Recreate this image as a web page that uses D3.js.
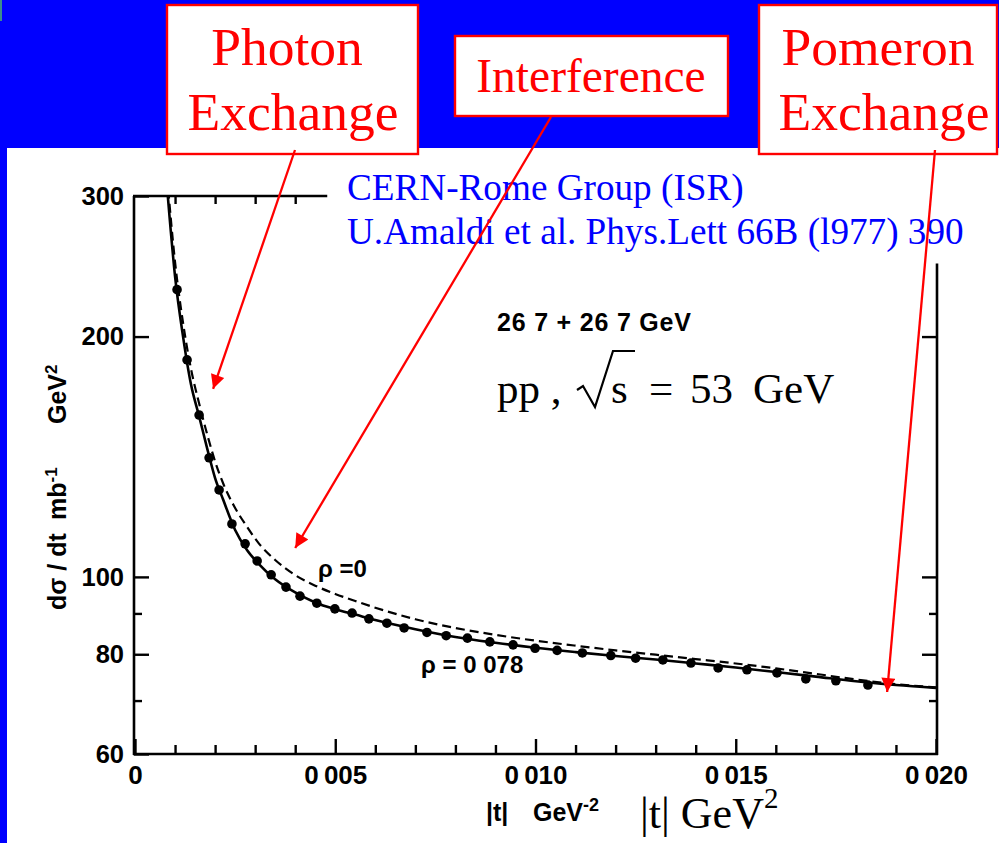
<!DOCTYPE html>
<html>
<head>
<meta charset="utf-8">
<script src="https://cdn.jsdelivr.net/npm/d3@7"></script>
<style>
  html, body { margin: 0; padding: 0; background: #0000ff; overflow: hidden; }
  svg { display: block; }
</style>
</head>
<body>
<svg id="chart" width="999" height="843"></svg>
<script>
// ---- data: pp elastic scattering at sqrt(s) = 53 GeV (26.7 + 26.7 GeV) ----
// measured points: |t| (GeV^2) and dsigma/dt (mb GeV^-2)
const tPoints = [0.00105, 0.00130, 0.00160, 0.00185, 0.00210, 0.00242, 0.00275, 0.00305,
  0.00340, 0.00377, 0.00412, 0.00454, 0.00499, 0.00542, 0.00584, 0.00629, 0.00672,
  0.00729, 0.00777, 0.00830, 0.00886, 0.00944, 0.00999, 0.01054, 0.01117, 0.01188,
  0.01250, 0.01318, 0.01388, 0.01456, 0.01528, 0.01603, 0.01675, 0.01750, 0.01830];
const sigmaPoints = [229, 187, 159.5, 141, 128.5, 116.5, 110, 104.7,
  100.6, 97.1, 94.6, 92.7, 91.2, 90.1, 88.6, 87.5, 86.3,
  85.2, 84.4, 83.8, 82.9, 82.2, 81.4, 80.9, 80.3, 79.7,
  79.1, 78.7, 78.0, 76.9, 76.5, 75.8, 74.5, 74.1, 73.2];

// fitted curves sampled on a common |t| grid
const tCurve = [0.0008, 0.0010, 0.0012, 0.0014, 0.0016, 0.0018, 0.0020, 0.0022, 0.0025,
  0.0028, 0.0031, 0.0035, 0.0040, 0.0045, 0.0050, 0.0055, 0.0060, 0.0070, 0.0080,
  0.0090, 0.0100, 0.0110, 0.0120, 0.0130, 0.0140, 0.0150, 0.0160, 0.0170, 0.0180,
  0.0190, 0.0200];
// rho = 0.078 (solid)
const sigmaRhoFit = [308, 238, 200, 174, 159, 145, 133, 125, 114.5,
  108, 103.7, 99.3, 95.6, 92.9, 91.1, 89.7, 88.3, 86.0, 84.1,
  82.7, 81.5, 80.5, 79.6, 78.8, 77.9, 77.0, 76.0, 75.0, 74.0,
  73.2, 72.6];
// rho = 0 (dashed)
const sigmaRhoZero = [318, 248, 208, 182, 165, 151, 139.5, 131, 122,
  115.5, 110, 105, 100.5, 97.5, 95.2, 93.3, 91.5, 88.5, 86.3,
  84.6, 83.2, 82.0, 80.9, 79.9, 78.9, 77.9, 76.8, 75.6, 74.4,
  73.4, 72.7];

// axes
const xMajorTicks = [0, 0.005, 0.010, 0.015, 0.020];
const xTickLabels = ["0", "0\u2009005", "0\u2009010", "0\u2009015", "0\u2009020"];
const xMinorTicks = [0.001, 0.002, 0.003, 0.004, 0.006, 0.007, 0.008, 0.009,
  0.011, 0.012, 0.013, 0.014, 0.016, 0.017, 0.018, 0.019];
const xTopTicks = [0.001, 0.002, 0.003, 0.004];
const yMajorTicks = [300, 200, 100, 80, 60];
const yMinorTicks = [90, 70];
const yRightMajor = [200, 100, 80];
const yRightMinor = [90, 70];

// ---- drawing ----
const W = 999, H = 843;
const RED = "#ff0000", BLUE = "#0000ff";
const sans = "'Liberation Sans', Arial, sans-serif";
const serif = "'Liberation Serif', 'Times New Roman', serif";
const svg = d3.select("#chart");

svg.append("rect").attr("width", W).attr("height", H).attr("fill", BLUE);
svg.append("rect").attr("x", 0).attr("y", 0).attr("width", 2).attr("height", 21).attr("fill", "#3c8c8c");
svg.append("rect").attr("x", 7).attr("y", 148).attr("width", W - 7).attr("height", H - 148).attr("fill", "#fff");

const x = d3.scaleLinear().domain([0, 0.020]).range([135, 936]);
const y = d3.scaleLog().domain([60, 300]).range([754, 196]);

const plot = svg.append("g");

// frame (top and right edges stop short where the citation text sits)
const frame = plot.append("g").attr("stroke", "#000").attr("stroke-width", 2.6).attr("fill", "none");
frame.append("line").attr("x1", x(0) - 1).attr("x2", x(0) - 1).attr("y1", y(300)).attr("y2", y(60) + 1);
frame.append("line").attr("x1", x(0) - 2).attr("x2", x(0.020) + 2).attr("y1", y(60)).attr("y2", y(60));
frame.append("line").attr("x1", x(0) - 2).attr("x2", x(0.0048)).attr("y1", y(300)).attr("y2", y(300));
frame.append("line").attr("x1", x(0.020) + 1).attr("x2", x(0.020) + 1).attr("y1", y(247)).attr("y2", y(60) + 1);

function styleAxis(g, size) {
  g.select(".domain").remove();
  g.selectAll(".tick line").attr("stroke", "#000").attr("stroke-width", 2.4);
  g.selectAll(".tick text")
    .attr("fill", "#000")
    .attr("font-family", sans)
    .attr("font-weight", "bold")
    .attr("font-size", size);
}

// left axis
plot.append("g").attr("transform", `translate(${x(0) - 1},0)`)
  .call(d3.axisLeft(y).tickValues(yMajorTicks).tickSize(-15).tickPadding(10).tickFormat(d3.format("d")))
  .call(g => styleAxis(g, 25.5));
plot.append("g").attr("transform", `translate(${x(0) - 1},0)`)
  .call(d3.axisLeft(y).tickValues(yMinorTicks).tickSize(-8).tickFormat(""))
  .call(g => styleAxis(g, 25));

// right axis
plot.append("g").attr("transform", `translate(${x(0.020) + 1},0)`)
  .call(d3.axisRight(y).tickValues(yRightMajor).tickSize(-15).tickFormat(""))
  .call(g => styleAxis(g, 25));
plot.append("g").attr("transform", `translate(${x(0.020) + 1},0)`)
  .call(d3.axisRight(y).tickValues(yRightMinor).tickSize(-8).tickFormat(""))
  .call(g => styleAxis(g, 25));

// bottom axis
plot.append("g").attr("transform", `translate(0,${y(60)})`)
  .call(d3.axisBottom(x).tickValues(xMajorTicks).tickSize(-15).tickPadding(12)
    .tickFormat((d, i) => xTickLabels[i]))
  .call(g => styleAxis(g, 26));
plot.append("g").attr("transform", `translate(0,${y(60)})`)
  .call(d3.axisBottom(x).tickValues(xMinorTicks).tickSize(-9).tickFormat(""))
  .call(g => styleAxis(g, 26));

// top axis
plot.append("g").attr("transform", `translate(0,${y(300)})`)
  .call(d3.axisTop(x).tickValues(xTopTicks).tickSize(-8).tickFormat(""))
  .call(g => styleAxis(g, 26));

// curves, clipped to the plotting area
svg.append("clipPath").attr("id", "plotClip")
  .append("rect").attr("x", x(0)).attr("y", y(300)).attr("width", x(0.020) - x(0)).attr("height", y(60) - y(300));

const line = d3.line().x(d => x(d[0])).y(d => y(d[1])).curve(d3.curveMonotoneX);
const curves = plot.append("g").attr("clip-path", "url(#plotClip)");

curves.append("path")
  .datum(tCurve.map((t, i) => [t, sigmaRhoZero[i]]))
  .attr("d", line).attr("fill", "none").attr("stroke", "#000")
  .attr("stroke-width", 2.2).attr("stroke-dasharray", "9,5");

curves.append("path")
  .datum(tCurve.map((t, i) => [t, sigmaRhoFit[i]]))
  .attr("d", line).attr("fill", "none").attr("stroke", "#000")
  .attr("stroke-width", 2.6);

curves.selectAll("circle.pt")
  .data(tPoints.map((t, i) => [t, sigmaPoints[i]]))
  .join("circle").attr("class", "pt")
  .attr("cx", d => x(d[0])).attr("cy", d => y(d[1])).attr("r", 4.8).attr("fill", "#000");

// curve labels
plot.append("text").attr("x", 318).attr("y", 577)
  .attr("font-family", sans).attr("font-size", 24).attr("font-weight", "bold").attr("fill", "#000")
  .text("\u03C1 =0");
plot.append("text").attr("x", 421).attr("y", 673)
  .attr("font-family", sans).attr("font-size", 24).attr("font-weight", "bold").attr("fill", "#000")
  .text("\u03C1 = 0 078");

// axis titles from the original figure
const yTitle = plot.append("g").attr("transform", "translate(66,0) rotate(-90)")
  .attr("font-family", sans).attr("font-size", 25).attr("font-weight", "bold").attr("fill", "#000");
yTitle.append("text").attr("x", -610).attr("y", 0).text("d\u03C3 / dt");
const yMb = yTitle.append("text").attr("x", -520).attr("y", 0);
yMb.append("tspan").text("mb");
yMb.append("tspan").attr("dy", -9).attr("font-size", 17).text("-1");
const yGev = yTitle.append("text").attr("x", -424).attr("y", 0);
yGev.append("tspan").text("GeV");
yGev.append("tspan").attr("dy", -9).attr("font-size", 17).text("2");

const xTitle = plot.append("g")
  .attr("font-family", sans).attr("font-size", 25).attr("font-weight", "bold").attr("fill", "#000");
xTitle.append("text").attr("x", 486).attr("y", 821).text("|t|");
const xGev = xTitle.append("text").attr("x", 533).attr("y", 821);
xGev.append("tspan").text("GeV");
xGev.append("tspan").attr("dy", -10).attr("font-size", 18).text("-2");

plot.append("text").attr("x", 497).attr("y", 331)
  .attr("font-family", sans).attr("font-size", 25).attr("font-weight", "bold").attr("fill", "#000")
  .attr("letter-spacing", 0.8)
  .text("26 7 + 26 7  GeV");

// slide annotations
const bigX = svg.append("text").attr("x", 640).attr("y", 828)
  .attr("font-family", serif).attr("font-size", 44).attr("fill", "#000");
bigX.append("tspan").text("|t| GeV");
bigX.append("tspan").attr("dy", -20).attr("font-size", 29).text("2");

const pp = svg.append("g").attr("font-family", serif).attr("font-size", 43).attr("fill", "#000");
pp.append("text").attr("x", 497).attr("y", 403).text("pp ,");
pp.append("path").attr("d", "M577,390 L583,386 L595,407 L613,351 L635,351")
  .attr("fill", "none").attr("stroke", "#000").attr("stroke-width", 2.2);
pp.append("text").attr("x", 611).attr("y", 403).text("s");
pp.append("text").attr("x", 649).attr("y", 403).text("=");
pp.append("text").attr("x", 690).attr("y", 403).text("53");
pp.append("text").attr("x", 753).attr("y", 403).text("GeV");

svg.append("text").attr("x", 347).attr("y", 200)
  .attr("font-family", serif).attr("font-size", 37.2).attr("fill", BLUE)
  .text("CERN-Rome Group (ISR)");
svg.append("text").attr("x", 347).attr("y", 244)
  .attr("font-family", serif).attr("font-size", 37.2).attr("fill", BLUE)
  .text("U.Amaldi et al. Phys.Lett 66B (l977) 390");

// labelled boxes
function box(x0, y0, x1, y1, lines, size, baselines, cx) {
  const g = svg.append("g");
  g.append("rect").attr("x", x0).attr("y", y0).attr("width", x1 - x0).attr("height", y1 - y0)
    .attr("fill", "#fff").attr("stroke", RED).attr("stroke-width", 2.4);
  lines.forEach((s, i) => {
    g.append("text").attr("x", cx[i]).attr("y", baselines[i])
      .attr("text-anchor", "middle").attr("font-family", serif).attr("font-size", size)
      .attr("fill", RED).text(s);
  });
}
box(167, 5, 418, 154, ["Photon", "Exchange"], 53.5, [65, 130], [287, 293]);
box(455, 36, 728, 116, ["Interference"], 47.5, [92], [591]);
box(759, 5, 997, 154, ["Pomeron", "Exchange"], 53.5, [65, 130], [878, 884]);

// arrows
const defs = svg.append("defs");
defs.append("marker").attr("id", "arrowHead")
  .attr("viewBox", "0 0 10 10").attr("refX", 10).attr("refY", 5)
  .attr("markerWidth", 17).attr("markerHeight", 14)
  .attr("markerUnits", "userSpaceOnUse").attr("orient", "auto")
  .append("path").attr("d", "M0,0 L10,5 L0,10 Z").attr("fill", RED);

const arrows = [
  { from: [295, 150], to: [0.00195, 172] },
  { from: [551, 117], to: [0.00400, 108.7] },
  { from: [935, 150], to: [0.01878, 71.75] }
];
svg.append("g").selectAll("line").data(arrows).join("line")
  .attr("x1", d => d.from[0]).attr("y1", d => d.from[1])
  .attr("x2", d => x(d.to[0])).attr("y2", d => y(d.to[1]))
  .attr("stroke", RED).attr("stroke-width", 2.3)
  .attr("marker-end", "url(#arrowHead)");
</script>
</body>
</html>
